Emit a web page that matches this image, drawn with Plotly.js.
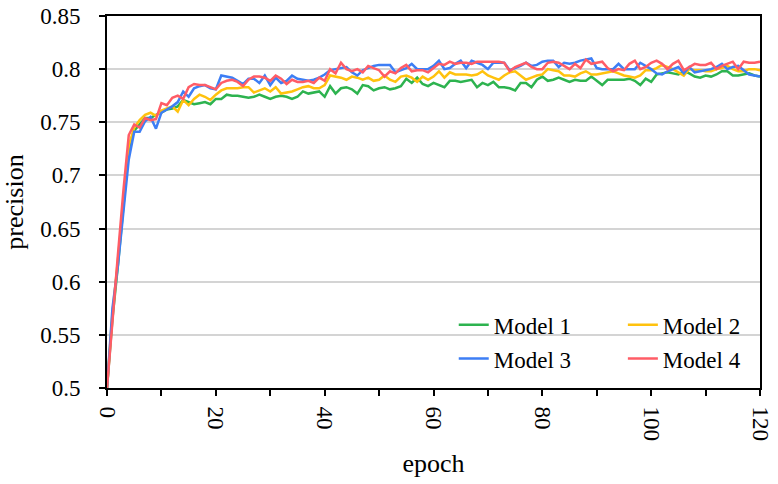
<!DOCTYPE html>
<html>
<head>
<meta charset="utf-8">
<script src="https://cdn.plot.ly/plotly-3.0.1.min.js"></script>
<style>
  html, body { margin: 0; padding: 0; background: #fff; }
  #chart { width: 778px; height: 484px; }
</style>
</head>
<body>
<div id="chart"></div>
<script>
var epochs = [
    0, 1, 2, 3, 4, 5, 6, 7, 8, 9, 10, 11, 12, 13, 14, 15, 16, 17, 18, 19, 20,
    21, 22, 23, 24, 25, 26, 27, 28, 29, 30, 31, 32, 33, 34, 35, 36, 37, 38, 39, 40,
    41, 42, 43, 44, 45, 46, 47, 48, 49, 50, 51, 52, 53, 54, 55, 56, 57, 58, 59, 60,
    61, 62, 63, 64, 65, 66, 67, 68, 69, 70, 71, 72, 73, 74, 75, 76, 77, 78, 79, 80,
    81, 82, 83, 84, 85, 86, 87, 88, 89, 90, 91, 92, 93, 94, 95, 96, 97, 98, 99, 100,
    101, 102, 103, 104, 105, 106, 107, 108, 109, 110, 111, 112, 113, 114, 115, 116, 117, 118, 119, 120
];

var model1 = [
    0.5, 0.565, 0.615, 0.67, 0.725, 0.742,
    0.748, 0.754, 0.754, 0.757, 0.759,
    0.762, 0.763, 0.765, 0.771, 0.769, 0.767, 0.768, 0.769, 0.767, 0.772,
    0.772, 0.776, 0.775, 0.775, 0.774, 0.773, 0.774, 0.776, 0.774, 0.772,
    0.774, 0.775, 0.774, 0.772, 0.774, 0.779, 0.777, 0.778, 0.779, 0.774,
    0.784, 0.777, 0.782, 0.783, 0.781, 0.777, 0.785, 0.784, 0.78, 0.782,
    0.783, 0.781, 0.782, 0.784, 0.791, 0.787, 0.792, 0.786, 0.784, 0.787,
    0.785, 0.783, 0.789, 0.789, 0.788, 0.789, 0.79, 0.783, 0.787, 0.785,
    0.788, 0.783, 0.783, 0.782, 0.78, 0.787, 0.787, 0.783, 0.79, 0.793,
    0.789, 0.79, 0.792, 0.79, 0.788, 0.79, 0.789, 0.789, 0.793, 0.789,
    0.785, 0.79, 0.79, 0.79, 0.79, 0.791, 0.789, 0.785, 0.791, 0.788,
    0.795, 0.796, 0.797, 0.796, 0.795, 0.798, 0.796, 0.793, 0.792, 0.794,
    0.793, 0.795, 0.798, 0.798, 0.794, 0.794, 0.795, 0.796, 0.794, 0.793
];

var model2 = [
    0.5, 0.57, 0.62, 0.675, 0.728, 0.745,
    0.752, 0.757, 0.759, 0.756, 0.761,
    0.763, 0.765, 0.76, 0.771, 0.766, 0.772, 0.776, 0.774, 0.771, 0.776,
    0.78, 0.782, 0.782, 0.782, 0.783, 0.783, 0.778, 0.78, 0.782, 0.779,
    0.783, 0.777, 0.778, 0.779, 0.781, 0.783, 0.784, 0.782, 0.782, 0.785,
    0.794, 0.793, 0.792, 0.79, 0.793, 0.792, 0.79, 0.792, 0.789, 0.79,
    0.794, 0.79, 0.788, 0.793, 0.794, 0.792, 0.788, 0.793, 0.79, 0.793,
    0.798, 0.792, 0.797, 0.795, 0.795, 0.795, 0.794, 0.795, 0.798, 0.794,
    0.792, 0.79, 0.794, 0.797, 0.798, 0.794, 0.79, 0.792, 0.794, 0.795,
    0.8, 0.799, 0.798, 0.794, 0.794, 0.793, 0.796, 0.798, 0.795, 0.795,
    0.796, 0.797, 0.798, 0.796, 0.794, 0.793, 0.792, 0.794, 0.799, 0.799,
    0.801, 0.804, 0.802, 0.8, 0.797, 0.794, 0.8, 0.799, 0.799, 0.798,
    0.798, 0.8, 0.801, 0.803, 0.8, 0.798, 0.798, 0.8, 0.8, 0.799
];

var model3 = [
    0.5, 0.575, 0.615, 0.665, 0.715, 0.741,
    0.741, 0.751, 0.755, 0.744, 0.759,
    0.762, 0.765, 0.769, 0.779, 0.774, 0.782, 0.784, 0.785, 0.782, 0.781,
    0.794, 0.793, 0.792, 0.789, 0.786, 0.791, 0.791, 0.787, 0.794, 0.785,
    0.792, 0.787, 0.789, 0.794, 0.791, 0.79, 0.789, 0.79, 0.792, 0.795,
    0.799, 0.8, 0.801, 0.802, 0.797, 0.794, 0.799, 0.801, 0.803, 0.804,
    0.804, 0.804, 0.797, 0.799, 0.801, 0.805, 0.8, 0.8, 0.8, 0.803,
    0.808, 0.8, 0.801, 0.805, 0.808, 0.801, 0.808, 0.806, 0.804, 0.8,
    0.806, 0.806, 0.806, 0.799, 0.801, 0.803, 0.806, 0.803, 0.804, 0.807,
    0.808, 0.808, 0.802, 0.806, 0.805, 0.806, 0.808, 0.809, 0.81, 0.801,
    0.8, 0.8, 0.8, 0.805, 0.8, 0.8, 0.8, 0.806, 0.803, 0.8,
    0.796, 0.795, 0.798, 0.8, 0.802, 0.796, 0.802, 0.797, 0.798, 0.799,
    0.8, 0.802, 0.805, 0.8, 0.802, 0.803, 0.799, 0.795, 0.794, 0.793
];

var model4 = [
    0.5, 0.565, 0.625, 0.685, 0.738, 0.748,
    0.745, 0.754, 0.752, 0.753, 0.768,
    0.766, 0.773, 0.775, 0.772, 0.783, 0.786, 0.785, 0.785, 0.783, 0.781,
    0.787, 0.789, 0.79, 0.788, 0.784, 0.79, 0.793, 0.793, 0.792, 0.789,
    0.794, 0.791, 0.786, 0.79, 0.788, 0.788, 0.789, 0.787, 0.792, 0.789,
    0.8, 0.796, 0.806, 0.8, 0.798, 0.8, 0.797, 0.803, 0.801, 0.799,
    0.793, 0.798, 0.796, 0.801, 0.804, 0.798, 0.799, 0.799, 0.797, 0.801,
    0.805, 0.804, 0.807, 0.805, 0.806, 0.806, 0.805, 0.807, 0.807, 0.807,
    0.807, 0.807, 0.806, 0.798, 0.802, 0.804, 0.806, 0.802, 0.8, 0.8,
    0.806, 0.807, 0.806, 0.803, 0.8, 0.805, 0.801, 0.809, 0.805, 0.806,
    0.807, 0.801, 0.798, 0.8, 0.799, 0.805, 0.808, 0.8, 0.802, 0.806,
    0.808, 0.805, 0.8, 0.805, 0.808, 0.799, 0.802, 0.805, 0.804, 0.804,
    0.806, 0.8, 0.803, 0.805, 0.807, 0.8, 0.807, 0.806, 0.806, 0.807
];

var names = ['Model 1', 'Model 2', 'Model 3', 'Model 4'];
var colors = ['#2db34f', '#ffc20e', '#3d7ef5', '#ff5c66'];

var FONT = 'Liberation Serif, Times New Roman, serif';

function line(y, i, legendId) {
    return {
        x: epochs,
        y: y,
        type: 'scatter',
        mode: 'lines',
        name: names[i],
        legend: legendId,
        legendgroup: 'g' + i,
        line: { color: colors[i], width: 2.5 }
    };
}

// left legend column holds models 1 and 3, right column 2 and 4
var traces = [
    line(model1, 0, 'legend'),
    line(model2, 1, 'legend2'),
    line(model3, 2, 'legend'),
    line(model4, 3, 'legend2')
];

var legendBase = {
    orientation: 'v',
    traceorder: 'grouped',
    tracegroupgap: 1,
    bgcolor: 'rgba(0,0,0,0)',
    borderwidth: 0,
    yanchor: 'top',
    xanchor: 'left',
    y: 0.228,
    font: { family: FONT, size: 23, color: '#000' }
};

var layout = {
    width: 778,
    height: 484,
    margin: { l: 107, r: 18, t: 16, b: 96 },
    paper_bgcolor: '#fff',
    plot_bgcolor: '#fff',
    font: { family: FONT, size: 23, color: '#000' },
    showlegend: true,
    legend: Object.assign({}, legendBase, { x: 0.531 }),
    legend2: Object.assign({}, legendBase, { x: 0.79 }),
    xaxis: {
        range: [0, 120],
        tick0: 0,
        dtick: 20,
        tickangle: 90,
        ticks: 'outside',
        ticklen: 6,
        tickwidth: 2,
        tickcolor: '#000',
        ticklabelstandoff: 6,
        minor: { dtick: 10, ticks: 'outside', ticklen: 6, tickwidth: 2, tickcolor: '#000', showgrid: false },
        showline: true,
        linecolor: '#000',
        linewidth: 2,
        mirror: true,
        showgrid: false,
        zeroline: false,
        tickfont: { family: FONT, size: 23, color: '#000' },
        title: { text: 'epoch', font: { family: FONT, size: 26, color: '#000' }, standoff: 14 }
    },
    yaxis: {
        range: [0.5, 0.85],
        tick0: 0.5,
        dtick: 0.05,
        ticks: 'outside',
        ticklen: 6,
        tickwidth: 2,
        tickcolor: '#000',
        ticklabelstandoff: 14,
        showline: true,
        linecolor: '#000',
        linewidth: 2,
        mirror: true,
        showgrid: true,
        gridcolor: '#d4d4d4',
        gridwidth: 2,
        zeroline: false,
        tickfont: { family: FONT, size: 23, color: '#000' },
        title: { text: 'precision', font: { family: FONT, size: 26, color: '#000' }, standoff: 12 }
    }
};

Plotly.newPlot('chart', traces, layout, { staticPlot: true, displayModeBar: false });
</script>
</body>
</html>
